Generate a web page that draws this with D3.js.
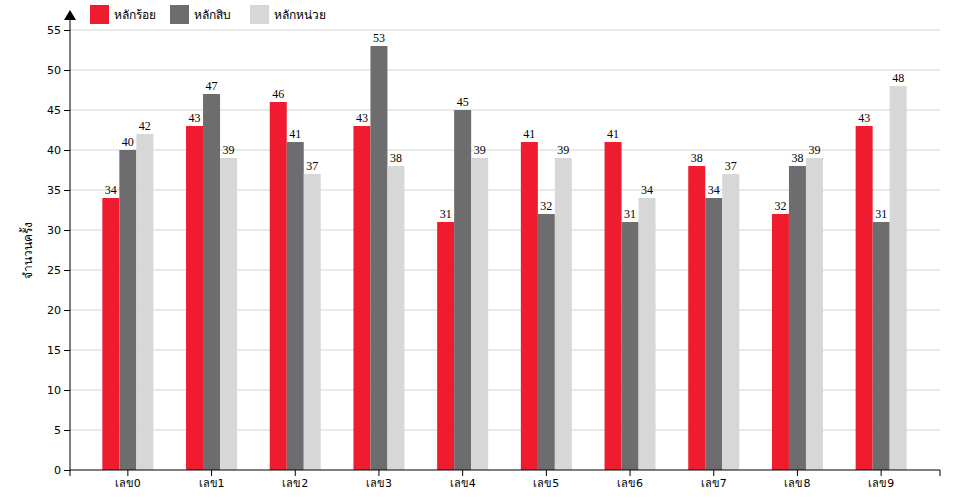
<!DOCTYPE html>
<html><head><meta charset="utf-8">
<script src="https://cdn.jsdelivr.net/npm/d3@7"></script>
<style>body{margin:0;background:#fff}svg{font-family:"DejaVu Sans",sans-serif}</style>
</head><body><svg width="960" height="500"></svg>
<script>
let categories = ['เลข0','เลข1','เลข2','เลข3','เลข4','เลข5','เลข6','เลข7','เลข8','เลข9']
let seriesNames = ['หลักร้อย','หลักสิบ','หลักหน่วย']
let hundreds = [34,43,46,43,31,41,41,38,32,43]
let tens = [40,47,41,53,45,32,31,34,38,31]
let units = [42,39,37,38,39,39,34,37,39,48]
let yTicks = [0,5,10,15,20,25,30,35,40,45,50,55]
let colors = ['#ee1c2e','#6d6d6f','#d7d7d7']

let svg = d3.select('svg')
let series = [hundreds, tens, units]

let xScale = d3.scaleBand().domain(categories).range([86, 923])
let inner = d3.scaleBand().domain([0,1,2]).range([0, 51])
let yScale = d3.scaleLinear().domain([0, 55]).range([470, 30])

// grid
svg.append('g').selectAll('line').data(yTicks.filter(d => d > 0)).enter().append('line')
   .attr('x1', 70).attr('x2', 940)
   .attr('y1', d => yScale(d)).attr('y2', d => yScale(d))
   .attr('stroke', '#d3d3d3')

// bars
categories.forEach((c, i) => {
  let g = svg.append('g').attr('transform', 'translate(' + (xScale(c) + xScale.bandwidth() / 2 - 25.5) + ',0)')
  series.forEach((s, j) => {
    g.append('rect')
     .attr('x', inner(j)).attr('width', inner.bandwidth())
     .attr('y', yScale(s[i])).attr('height', yScale(0) - yScale(s[i]))
     .attr('fill', colors[j])
    g.append('text')
     .attr('x', inner(j) + inner.bandwidth() / 2).attr('y', yScale(s[i]) - 4)
     .attr('text-anchor', 'middle').attr('font-family', 'Liberation Serif')
     .attr('font-size', 12).text(s[i])
  })
})

// axes
let xAxis = d3.axisBottom(xScale).tickSizeOuter(6)
svg.append('g').attr('transform', 'translate(0,470)').call(xAxis)
   .call(g => g.select('.domain').attr('d', 'M70,6V0H940V6'))
   .selectAll('text').attr('font-size', 11).attr('font-family', 'DejaVu Sans')
let yAxis = d3.axisLeft(yScale).tickValues(yTicks).tickSizeOuter(0)
svg.append('g').attr('transform', 'translate(70,0)').call(yAxis)
   .call(g => g.select('.domain').attr('d', 'M0,470V14'))
   .selectAll('text').attr('font-size', 11).attr('font-family', 'DejaVu Sans')
svg.append('path').attr('d', 'M64,20L70,10L76,20Z').attr('fill', '#000')

svg.append('text').attr('transform', 'translate(32,250) rotate(-90)')
   .attr('text-anchor', 'middle').attr('font-size', 12).text('จำนวนครั้ง')

// legend
seriesNames.forEach((n, i) => {
  svg.append('rect').attr('x', 90 + i * 80).attr('y', 5).attr('width', 19).attr('height', 19).attr('fill', colors[i])
  svg.append('text').attr('x', 114 + i * 80).attr('y', 19).attr('font-size', 12).text(n)
})
</script></body></html>
